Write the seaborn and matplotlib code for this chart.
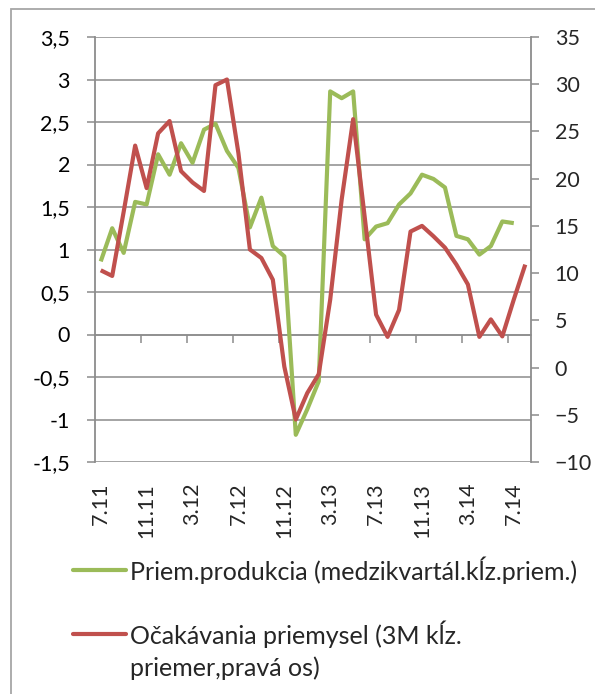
import numpy as np
import pandas as pd
import matplotlib.pyplot as plt
import seaborn as sns
from matplotlib.lines import Line2D
from matplotlib.patches import Rectangle
from matplotlib.ticker import FuncFormatter, FixedLocator

# mesiace 7.11 - 8.14
months = ['7.11', '8.11', '9.11', '10.11', '11.11', '12.11', '1.12', '2.12', '3.12', '4.12',
          '5.12', '6.12', '7.12', '8.12', '9.12', '10.12', '11.12', '12.12', '1.13', '2.13',
          '3.13', '4.13', '5.13', '6.13', '7.13', '8.13', '9.13', '10.13', '11.13', '12.13',
          '1.14', '2.14', '3.14', '4.14', '5.14', '6.14', '7.14', '8.14']

# priem. produkcia (lava os)
produkcia = [0.86, 1.25, 0.96, 1.56, 1.53, 2.12, 1.88, 2.25, 2.02, 2.41,
             2.48, 2.16, 1.96, 1.26, 1.61, 1.04, 0.92, -1.18, -0.88, -0.55,
             2.86, 2.78, 2.86, 1.12, 1.27, 1.31, 1.53, 1.66, 1.88, 1.83,
             1.73, 1.16, 1.12, 0.94, 1.04, 1.33, 1.31, np.nan]

# ocakavania priemysel (prava os)
ocakavania = [10.3, 9.7, 16.5, 23.5, 19.0, 24.8, 26.1, 20.8, 19.6, 18.7,
              29.9, 30.5, 22.7, 12.5, 11.6, 9.3, 0.1, -5.5, -2.7, -0.7,
              7.2, 17.8, 26.3, 16.0, 5.6, 3.25, 6.1, 14.4, 15.0, 13.9,
              12.7, 10.9, 8.8, 3.25, 5.1, 3.3, 7.2, 10.9]

label_prod = ['Priem.produkcia (medzikvartál.kĺz.priem.)']
label_ocak = ['Očakávania priemysel (3M kĺz.', 'priemer,pravá os)']

df = pd.DataFrame({'mesiac': months, 'produkcia': produkcia, 'ocakavania': ocakavania})
df['pos'] = np.arange(len(df))

sns.set_style('white')
plt.rcParams['font.family'] = ['Lato', 'DejaVu Sans']

GREEN = '#9bbb59'
RED = '#c0504d'
GRAY = '#8c8c8c'

fig = plt.figure(figsize=(5.95, 6.94), dpi=100)
ax = fig.add_axes([95 / 595, 1 - 462 / 694, 436 / 595, 425 / 694])
ax2 = ax.twinx()

sns.lineplot(data=df, x='pos', y='produkcia', ax=ax, color=GREEN, linewidth=3.0,
             solid_joinstyle='round', solid_capstyle='butt')
sns.lineplot(data=df, x='pos', y='ocakavania', ax=ax2, color=RED, linewidth=3.0,
             solid_joinstyle='round', solid_capstyle='butt')

# lava os
ax.set_xlim(-0.5, len(months) - 0.5)
ax.set_ylim(-1.5, 3.5)
ax.set_yticks(np.arange(-1.5, 3.51, 0.5))
ax.yaxis.set_major_formatter(FuncFormatter(lambda v, p: f'{v:g}'.replace('.', ',')))
ax.grid(axis='y', color=GRAY, linewidth=1.1)
ax.grid(axis='x', visible=False)
ax.set_axisbelow(True)
ax.tick_params(axis='y', left=True, direction='out', length=6, width=1.1, color=GRAY,
               pad=12, labelsize=15.5, labelcolor='black')
ax.set_xticks(df['pos'][::4])
ax.set_xticklabels(df['mesiac'][::4], rotation=90, va='top', ha='center')
ax.tick_params(axis='x', length=0, pad=15, labelsize=15.5)
ax.set_xlabel('')
ax.set_ylabel('')
for s in ['top', 'bottom', 'right']:
    ax.spines[s].set_visible(False)
ax.spines['left'].set_color(GRAY)
ax.spines['left'].set_linewidth(1.3)

# prava os
ax2.set_ylim(-10, 35)
ax2.set_yticks(np.arange(-10, 36, 5))
ax2.tick_params(axis='y', right=True, direction='out', length=6, width=1.1, color=GRAY,
                pad=11, labelsize=15.5)
ax2.set_ylabel('')
for s in ['top', 'bottom', 'left']:
    ax2.spines[s].set_visible(False)
ax2.spines['right'].set_color(GRAY)
ax2.spines['right'].set_linewidth(1.3)

# kategoriova os na nule
zero_frac = (0 - (-1.5)) / 5.0
sec = ax.secondary_xaxis(zero_frac)
sec.xaxis.set_major_locator(FixedLocator(np.arange(3.5, len(months) - 1, 4)))
sec.tick_params(axis='x', direction='out', length=6, width=1.1, color=GRAY, labelbottom=False)
sec.spines['bottom'].set_color(GRAY)
sec.spines['bottom'].set_linewidth(1.1)

# ramik grafu
fig.add_artist(Rectangle((11 / 595, -0.1), 1.2, 1 - 9 / 694 + 0.1, transform=fig.transFigure,
                         fill=False, edgecolor='#a6a6a6', linewidth=1.3))

# legenda
for y, col, lines in [(570, GREEN, label_prod), (634, RED, label_ocak)]:
    yf = 1 - y / 694
    fig.add_artist(Line2D([73 / 595, 126 / 595], [yf, yf], transform=fig.transFigure,
                          color=col, linewidth=3.0, solid_capstyle='round'))
    for k, txt in enumerate(lines):
        fig.text(130 / 595, 1 - (y + 34 * k) / 694, txt, fontsize=18, va='center', ha='left',
                 transform=fig.transFigure)

fig.savefig('out.png', dpi=100)
